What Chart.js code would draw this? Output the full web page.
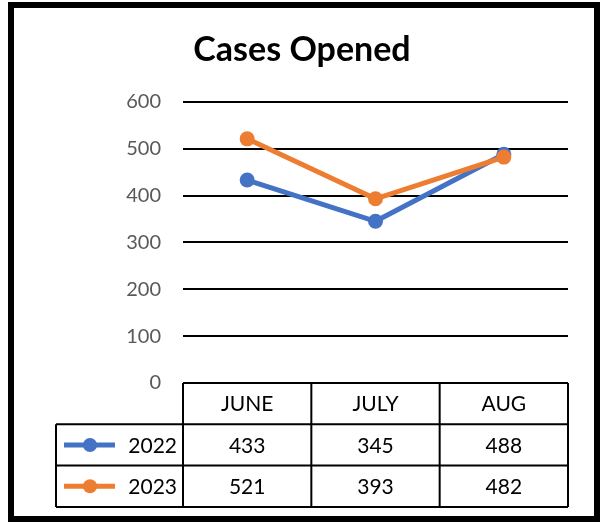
<!DOCTYPE html>
<html>
<head>
<meta charset="utf-8">
<script src="https://cdn.jsdelivr.net/npm/chart.js@4"></script>
<style>
    body { margin: 0; background: #ffffff; }
    #wrap { position: absolute; left: 0; top: 0; width: 601px; height: 522px; }
</style>
</head>
<body>
<div id="wrap"><canvas id="casesChart" width="601" height="522"></canvas></div>
<script>
const months = ['JUNE', 'JULY', 'AUG'];
const seriesNames = ['2022', '2023'];
const cases2022 = [433, 345, 488];
const cases2023 = [521, 393, 482];
const seriesColors = ['#4472C4', '#ED7D31'];

const tableFont = '21px Lato';

// frame round the whole chart
const framePlugin = {
    id: 'frame',
    afterDraw: function (chart) {
        var ctx = chart.ctx;
        ctx.save();
        ctx.strokeStyle = '#000000';
        ctx.lineWidth = 6;
        ctx.strokeRect(11, 5, 586, 514);
        ctx.restore();
    }
};

// data table under the plot, in place of the x axis
const dataTablePlugin = {
    id: 'dataTable',
    afterDraw: function (chart) {
        var ctx = chart.ctx;
        var xScale = chart.scales.x;
        var area = chart.chartArea;
        var rowH = 41.3;
        var legendLeft = 56;
        var top = area.bottom;

        var edges = [area.left];
        for (let i = 0; i < months.length - 1; i++) {
            edges.push((xScale.getPixelForValue(i) + xScale.getPixelForValue(i + 1)) / 2);
        }
        edges.push(area.right);

        ctx.save();
        ctx.strokeStyle = '#000000';
        ctx.lineWidth = 2;
        ctx.beginPath();
        // horizontal rules
        ctx.moveTo(area.left, top);
        ctx.lineTo(area.right, top);
        for (let r = 1; r <= 3; r++) {
            ctx.moveTo(legendLeft, top + rowH * r);
            ctx.lineTo(area.right, top + rowH * r);
        }
        // vertical rules
        ctx.moveTo(legendLeft, top + rowH);
        ctx.lineTo(legendLeft, top + rowH * 3);
        edges.forEach(function (x) {
            ctx.moveTo(x, top);
            ctx.lineTo(x, top + rowH * 3);
        });
        ctx.stroke();

        ctx.fillStyle = '#000000';
        ctx.font = tableFont;
        ctx.textAlign = 'center';
        ctx.textBaseline = 'middle';
        months.forEach(function (m, i) {
            ctx.fillText(m, xScale.getPixelForValue(i), top + rowH * 0.5 + 1);
        });

        var rows = [cases2022, cases2023];
        rows.forEach(function (values, r) {
            var yMid = top + rowH * (r + 1.5) + 1;
            values.forEach(function (v, i) {
                ctx.fillText(String(v), xScale.getPixelForValue(i), yMid);
            });

            // legend key
            ctx.strokeStyle = seriesColors[r];
            ctx.lineWidth = 5;
            ctx.beginPath();
            ctx.moveTo(64, yMid - 1);
            ctx.lineTo(115, yMid - 1);
            ctx.stroke();
            ctx.fillStyle = seriesColors[r];
            ctx.beginPath();
            ctx.arc(90, yMid - 1, 7, 0, Math.PI * 2);
            ctx.fill();

            ctx.fillStyle = '#000000';
            ctx.textAlign = 'right';
            ctx.fillText(seriesNames[r], 177, yMid);
            ctx.textAlign = 'center';
        });
        ctx.restore();
    }
};

var chartControl = document.getElementById('casesChart');

var casesChart = new Chart(chartControl, {
    type: 'line',
    data: {
        labels: months,
        datasets: [
            {
                label: seriesNames[0],
                data: cases2022,
                borderColor: seriesColors[0],
                backgroundColor: seriesColors[0],
                borderWidth: 5,
                pointRadius: 7.5,
                pointBorderWidth: 0,
                order: 1
            },
            {
                label: seriesNames[1],
                data: cases2023,
                borderColor: seriesColors[1],
                backgroundColor: seriesColors[1],
                borderWidth: 5,
                pointRadius: 7.5,
                pointBorderWidth: 0,
                order: 0
            }
        ]
    },
    options: {
        responsive: false,
        animation: false,
        layout: {
            padding: { left: 36, right: 33, top: 0, bottom: 139 }
        },
        scales: {
            x: {
                display: false,
                offset: true
            },
            y: {
                min: 0,
                max: 600,
                ticks: {
                    stepSize: 100,
                    padding: 22,
                    color: '#595959',
                    font: { family: 'Lato', size: 20 }
                },
                grid: {
                    color: '#000000',
                    lineWidth: 2,
                    drawTicks: false
                },
                border: { display: false },
                afterFit: function (scale) {
                    scale.width = 147;
                }
            }
        },
        plugins: {
            legend: { display: false },
            tooltip: { enabled: false },
            title: {
                display: true,
                text: 'Cases Opened',
                color: '#000000',
                font: { family: 'Lato', size: 34, weight: 'bold' },
                padding: { top: 30, bottom: 31 }
            }
        }
    },
    plugins: [dataTablePlugin, framePlugin]
});
</script>
</body>
</html>
